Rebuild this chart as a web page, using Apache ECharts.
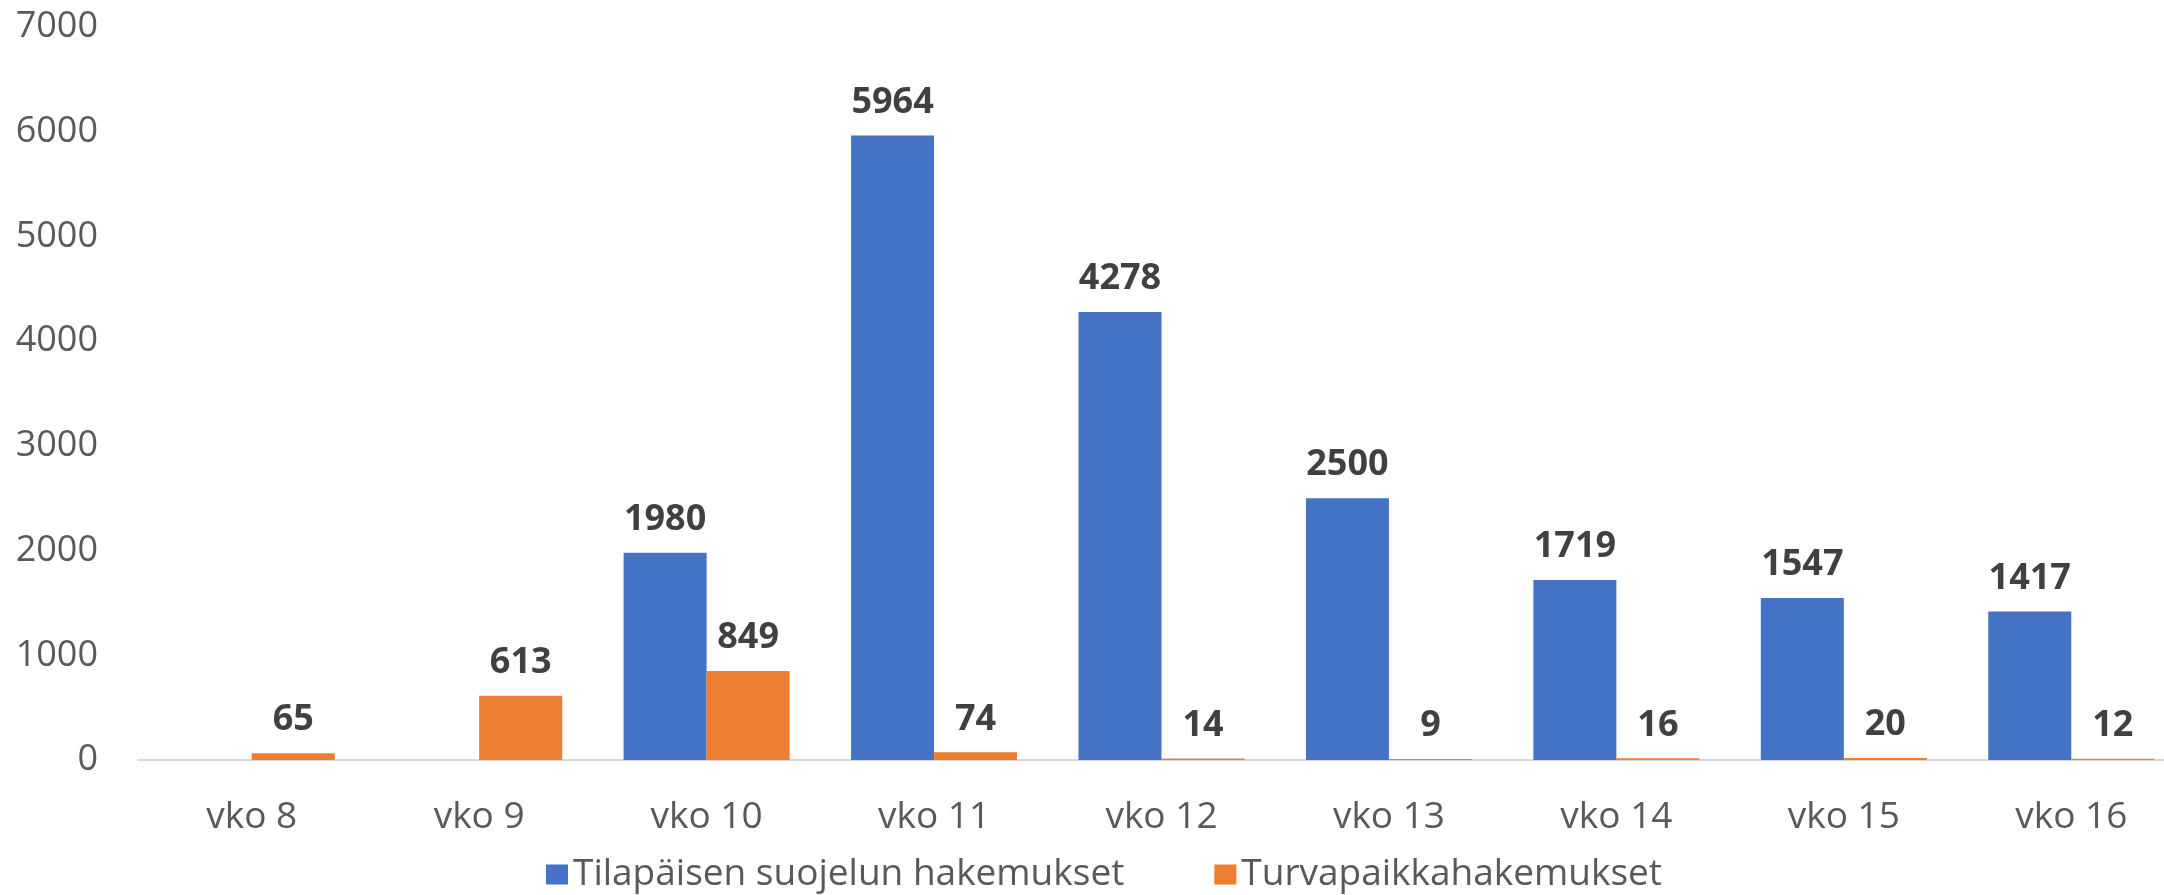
<!DOCTYPE html>
<html>
<head>
<meta charset="utf-8">
<script src="https://cdn.jsdelivr.net/npm/echarts@6/dist/echarts.min.js"></script>
<style>
  html, body { margin: 0; padding: 0; background: #fff; }
  #chart { width: 2164px; height: 895px; }
</style>
</head>
<body>
<div id="chart"></div>
<script>
const weeks = ['vko 8', 'vko 9', 'vko 10', 'vko 11', 'vko 12', 'vko 13', 'vko 14', 'vko 15', 'vko 16']
const tilapainen = [null, null, 1980, 5964, 4278, 2500, 1719, 1547, 1417]
const turvapaikka = [65, 613, 849, 74, 14, 9, 16, 20, 12]

const font = '"Open Sans", "Noto Sans", sans-serif'

const chart = echarts.init(document.getElementById('chart'))

const label = {
    show: true,
    position: 'top',
    distance: 15,
    color: '#404040',
    fontFamily: font,
    fontWeight: 'bold',
    fontSize: 36
}

chart.setOption({
    animation: false,
    grid: { left: 138, right: -21, top: 27, bottom: 135, outerBoundsMode: 'none', containLabel: false },
    legend: {
        left: 541,
        top: 851,
        itemWidth: 22,
        itemHeight: 20,
        itemGap: 90,
        icon: 'rect',
        textStyle: { color: '#595959', fontFamily: font, fontSize: 37 },
        data: ['Tilapäisen suojelun hakemukset', 'Turvapaikkahakemukset']
    },
    xAxis: {
        type: 'category',
        data: weeks,
        axisLine: { lineStyle: { color: '#d9d9d9', width: 2 } },
        axisTick: { show: false },
        axisLabel: { color: '#595959', fontFamily: font, fontSize: 37, margin: 39 }
    },
    yAxis: {
        type: 'value',
        min: 0,
        max: 7000,
        interval: 1000,
        splitLine: { show: false },
        axisLine: { show: false },
        axisLabel: {
            color: '#595959', fontFamily: font, fontSize: 36, margin: 40,
            formatter: v => String(v)
        }
    },
    series: [
        {
            name: 'Tilapäisen suojelun hakemukset',
            type: 'bar',
            data: tilapainen,
            itemStyle: { color: '#4472C4' },
            barGap: '0%',
            barCategoryGap: '27%',
            label
        },
        {
            name: 'Turvapaikkahakemukset',
            type: 'bar',
            data: turvapaikka,
            itemStyle: { color: '#ED7D31' },
            label
        }
    ]
})
</script>
</body>
</html>
